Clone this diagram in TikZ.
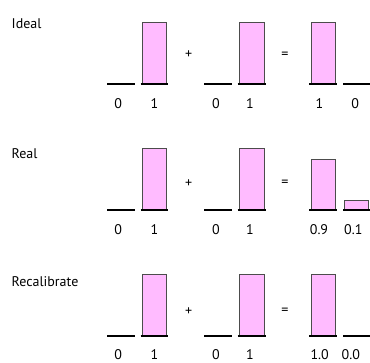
\documentclass[tikz,border=0pt]{standalone}
\usepackage{fontspec}
\setmainfont{PT Sans}
\begin{document}
\begin{tikzpicture}[x=1pt,y=-1pt,
  bar/.style={draw=black!70,fill=pinkfill,line width=0.9pt},
  base/.style={draw=black,line width=1.3pt},
  lbl/.style={inner sep=0pt,anchor=base,font=\fontsize{14}{16}\selectfont},
  rowlbl/.style={inner sep=0pt,anchor=base west,font=\fontsize{14}{16}\selectfont},
  op/.style={inner sep=0pt,anchor=center,font=\fontsize{14}{16}\selectfont}]
\definecolor{pinkfill}{HTML}{FFBBFF}
\useasboundingbox (0,0) rectangle (370,363);
% ---------- Row 1 : Ideal ----------
\node[rowlbl] (t1) at (11.5,28.3) {Ideal};
\draw[bar] (142.3,84) rectangle (166.7,22.7);
\draw[bar] (239.7,84) rectangle (264.3,22.7);
\draw[bar] (311.3,84) rectangle (335.7,22.7);
\coordinate (a1) at (107,84); \coordinate (a2) at (135,84);
\coordinate (b1) at (140.7,84); \coordinate (b2) at (167.7,84);
\coordinate (c1) at (204,84); \coordinate (c2) at (232.3,84);
\coordinate (d1) at (237.7,84); \coordinate (d2) at (265.7,84);
\coordinate (e1) at (309.3,84); \coordinate (e2) at (336.7,84);
\coordinate (f1) at (343.3,84); \coordinate (f2) at (370,84);
\draw[base] (a1)--(a2); \draw[base] (b1)--(b2);
\draw[base] (c1)--(c2); \draw[base] (d1)--(d2);
\draw[base] (e1)--(e2); \draw[base] (f1)--(f2);
\node[op] (p1) at (188.7,55) {+};
\node[op] (q1) at (285,55) {=};
\node[lbl] (l11) at (118.3,108.3) {0};
\node[lbl] (l12) at (154.5,108.3) {1};
\node[lbl] (l13) at (216,108.3) {0};
\node[lbl] (l14) at (250,108.3) {1};
\node[lbl] (l15) at (319.5,108.3) {1};
\node[lbl] (l16) at (355.3,108.3) {0};
% ---------- Row 2 : Real ----------
\node[rowlbl] (t2) at (11.5,158.3) {Real};
\draw[bar] (142.3,210) rectangle (166.7,148.3);
\draw[bar] (239.7,210) rectangle (264.3,148.3);
\draw[bar] (311.3,210) rectangle (335.7,159);
\draw[bar] (344,210) rectangle (368.3,200.7);
\coordinate (g1) at (107,210); \coordinate (g2) at (135,210);
\coordinate (h1) at (140.7,210); \coordinate (h2) at (167.7,210);
\coordinate (i1) at (204,210); \coordinate (i2) at (232.3,210);
\coordinate (j1) at (237.7,210); \coordinate (j2) at (265.7,210);
\coordinate (k1) at (309.3,210); \coordinate (k2) at (336.7,210);
\coordinate (m1) at (343.3,210); \coordinate (m2) at (370,210);
\draw[base] (g1)--(g2); \draw[base] (h1)--(h2);
\draw[base] (i1)--(i2); \draw[base] (j1)--(j2);
\draw[base] (k1)--(k2); \draw[base] (m1)--(m2);
\node[op] (p2) at (188.7,183.3) {+};
\node[op] (q2) at (285,183.3) {=};
\node[lbl] (l21) at (118.3,234.3) {0};
\node[lbl] (l22) at (154.5,234.3) {1};
\node[lbl] (l23) at (216,234.3) {0};
\node[lbl] (l24) at (250,234.3) {1};
\node[lbl] (l25) at (319,234.3) {0.9};
\node[lbl] (l26) at (353.3,234.3) {0.1};
% ---------- Row 3 : Recalibrate ----------
\node[rowlbl] (t3) at (11.5,286.7) {Recalibrate};
\draw[bar] (142.3,336) rectangle (166.7,274.7);
\draw[bar] (239.7,336) rectangle (264.3,274.7);
\draw[bar] (311.3,336) rectangle (335.7,274.7);
\coordinate (n1) at (107,336); \coordinate (n2) at (135,336);
\coordinate (o1) at (140.7,336); \coordinate (o2) at (167.7,336);
\coordinate (r1) at (204,336); \coordinate (r2) at (232.3,336);
\coordinate (s1) at (237.7,336); \coordinate (s2) at (265.7,336);
\coordinate (u1) at (309.3,336); \coordinate (u2) at (336.7,336);
\coordinate (v1) at (343.3,336); \coordinate (v2) at (370,336);
\draw[base] (n1)--(n2); \draw[base] (o1)--(o2);
\draw[base] (r1)--(r2); \draw[base] (s1)--(s2);
\draw[base] (u1)--(u2); \draw[base] (v1)--(v2);
\node[op] (p3) at (188.7,311.7) {+};
\node[op] (q3) at (285,311.7) {=};
\node[lbl] (l31) at (118.3,359.5) {0};
\node[lbl] (l32) at (154.5,359.5) {1};
\node[lbl] (l33) at (216,359.5) {0};
\node[lbl] (l34) at (250,359.5) {1};
\node[lbl] (l35) at (319.7,359.5) {1.0};
\node[lbl] (l36) at (350.8,359.5) {0.0};
\end{tikzpicture}
\end{document}
